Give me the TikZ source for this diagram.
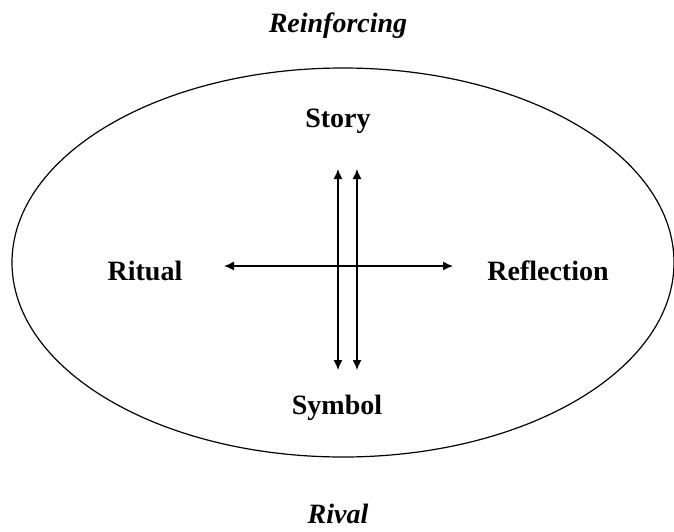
\documentclass[tikz,border=0pt]{standalone}
\usepackage{fontspec}
\setmainfont{Liberation Serif}
\usetikzlibrary{arrows.meta}
\begin{document}
\begin{tikzpicture}[x=0.5pt,y=-0.5pt,
    lbl/.style={font=\fontsize{14}{16}\selectfont\bfseries},
    caption/.style={font=\fontsize{14}{16}\selectfont\bfseries\itshape},
    arr/.style={{Latex[length=5pt,width=4.5pt]}-{Latex[length=5pt,width=4.5pt]}, line width=0.65pt}]
		\useasboundingbox (0,0) rectangle (674,531);
		\draw (338,26) node[caption](Reinforcing) {Reinforcing};
		\draw (338,514) node[caption](Rival) {Rival};
		\draw[line width=0.6pt] (343,262.5) ellipse [x radius=331, y radius=194.5];
		\draw (338,121) node[lbl](Story) {Story};
		\draw (145,271) node[lbl](Ritual) {Ritual};
		\draw (548,271) node[lbl](Reflection) {Reflection};
		\draw (337,408) node[lbl](Symbol) {Symbol};
		\coordinate (L) at (224,266);
		\coordinate (R) at (453,266);
		\coordinate (T1) at (338,169);
		\coordinate (B1) at (338,370);
		\coordinate (T2) at (357,169);
		\coordinate (B2) at (357,370);
        \draw[arr] (L) -- (R);
        \draw[arr] (T1) -- (B1);
        \draw[arr] (T2) -- (B2);
    \end{tikzpicture}
\end{document}
